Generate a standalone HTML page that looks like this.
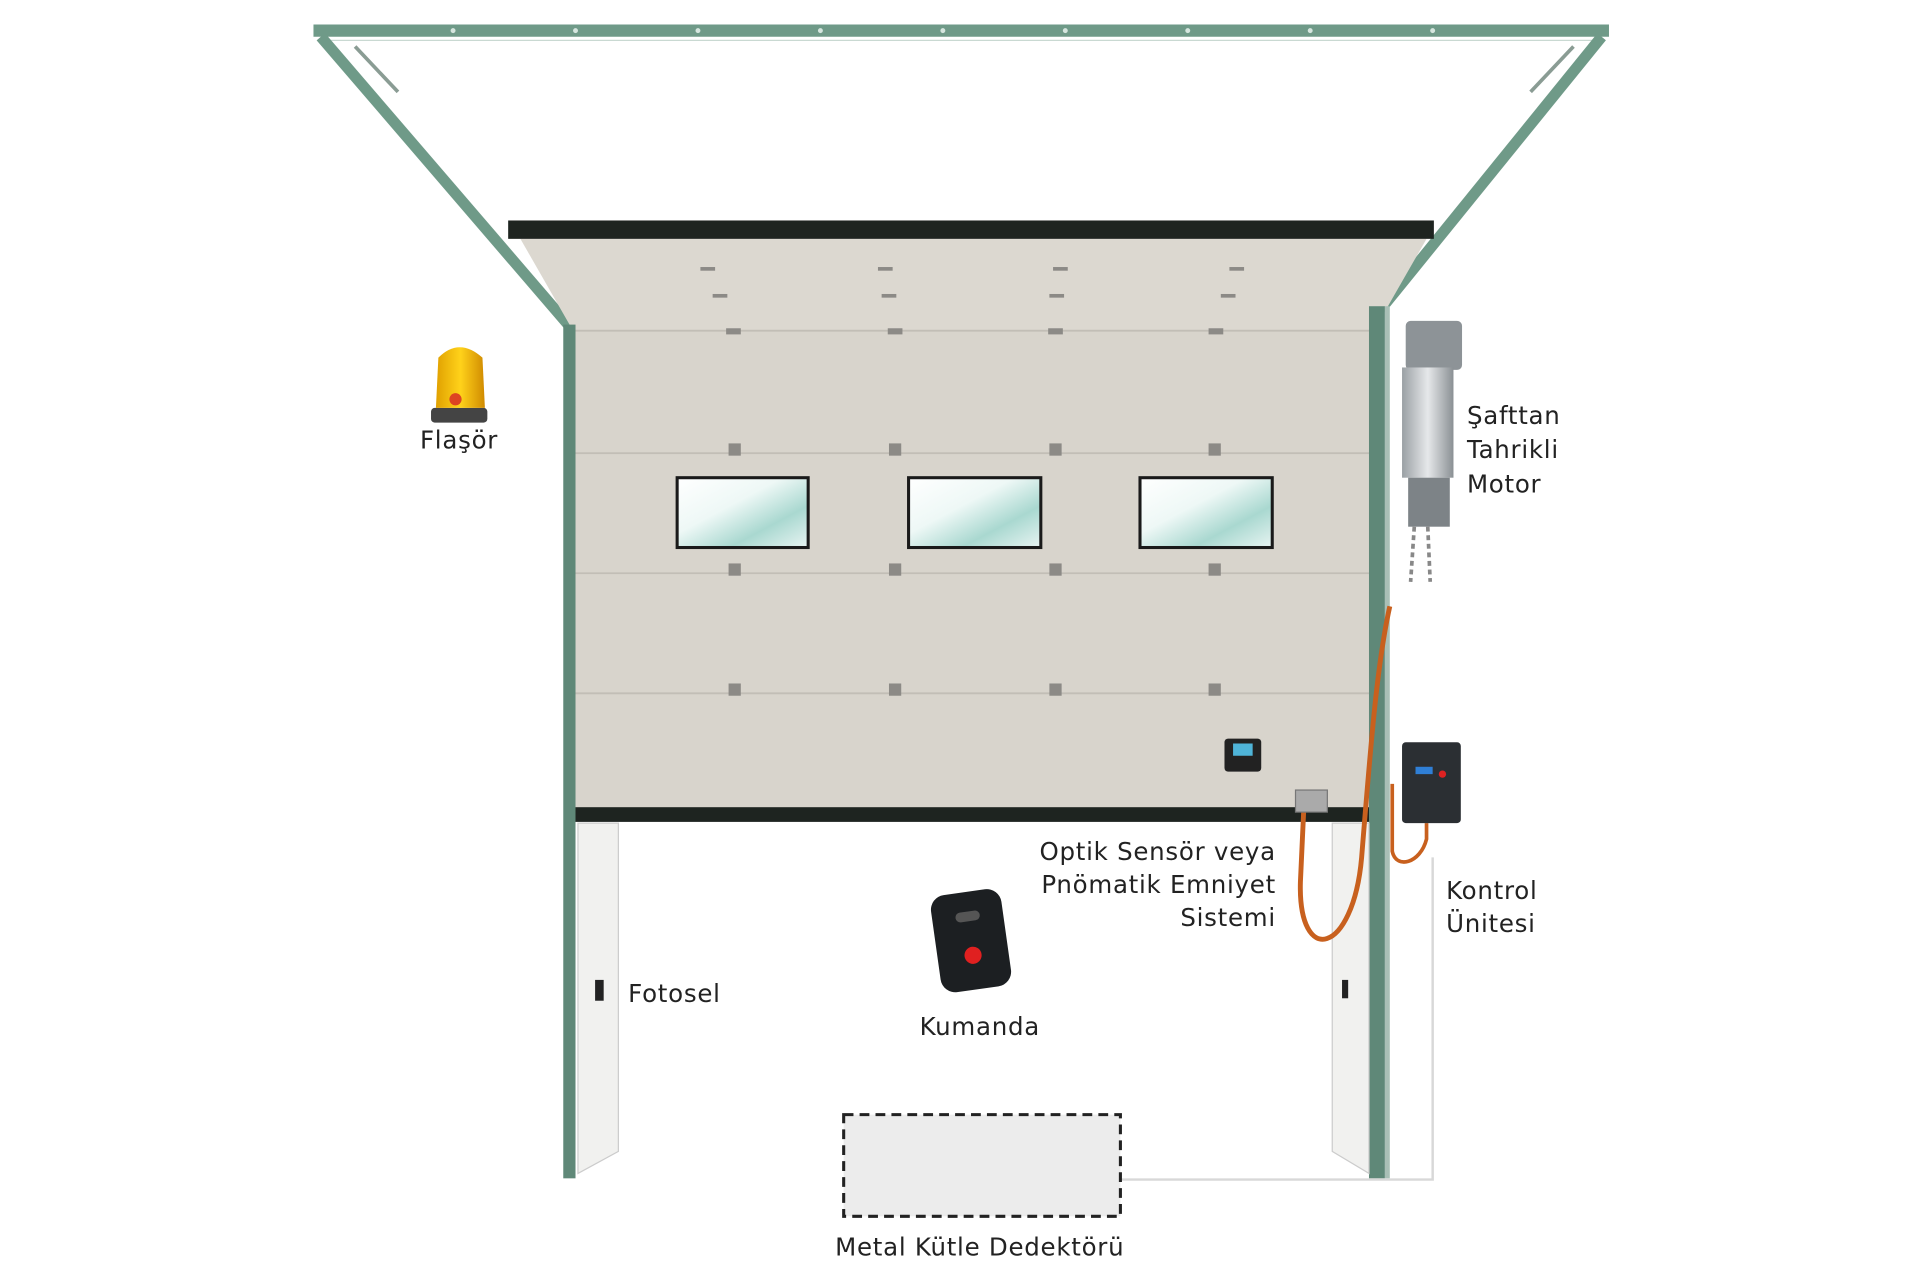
<!DOCTYPE html>
<html><head><meta charset="utf-8"><style>
html,body{margin:0;padding:0;background:#fff;}
svg{display:block;}
text{font-family:"DejaVu Sans","Liberation Sans",sans-serif;font-size:20px;letter-spacing:0.6px;fill:#222;}
</style></head><body>
<svg width="1920" height="1280" viewBox="0 0 1568 1045" preserveAspectRatio="none" xmlns="http://www.w3.org/2000/svg">
<defs>
<linearGradient id="gl" x1="0" y1="0" x2="1" y2="1">
<stop offset="0" stop-color="#fff"/><stop offset="0.4" stop-color="#eef8f6"/><stop offset="0.7" stop-color="#a9d8d0"/><stop offset="1" stop-color="#e8f4f2"/>
</linearGradient>
<linearGradient id="fl" x1="0" y1="0" x2="1" y2="0">
<stop offset="0" stop-color="#e0a000"/><stop offset="0.5" stop-color="#ffd21a"/><stop offset="1" stop-color="#d08a00"/>
</linearGradient>
<linearGradient id="mo" x1="0" y1="0" x2="1" y2="0">
<stop offset="0" stop-color="#9aa0a4"/><stop offset="0.5" stop-color="#e6e8ea"/><stop offset="1" stop-color="#8a9094"/>
</linearGradient>
</defs>
<rect x="256" y="20" width="1058" height="10" fill="#6f9a88"/>
<line x1="262" y1="33" x2="1310" y2="33" stroke="#c9d9d2" stroke-width="1"/>
<g fill="#d6e6df">
<circle cx="370" cy="25" r="2"/><circle cx="470" cy="25" r="2"/><circle cx="570" cy="25" r="2"/><circle cx="670" cy="25" r="2"/><circle cx="770" cy="25" r="2"/><circle cx="870" cy="25" r="2"/><circle cx="970" cy="25" r="2"/><circle cx="1070" cy="25" r="2"/><circle cx="1170" cy="25" r="2"/>
</g>
<line x1="262" y1="30" x2="470" y2="272" stroke="#6f9a88" stroke-width="9"/>
<line x1="1308" y1="30" x2="1128" y2="252" stroke="#6f9a88" stroke-width="9"/>
<line x1="290" y1="38" x2="325" y2="75" stroke="#8a9c94" stroke-width="3"/>
<line x1="1285" y1="38" x2="1250" y2="75" stroke="#8a9c94" stroke-width="3"/>
<polygon points="425,195 1165,195 1122,270 468,270" fill="#dcd8d0"/>
<rect x="468" y="270" width="654" height="392" fill="#d8d4cc"/>
<rect x="415" y="180" width="756" height="15" fill="#1e2420"/>
<g stroke="#c2beb6" stroke-width="1.5">
<line x1="468" y1="270" x2="1122" y2="270"/><line x1="468" y1="370" x2="1122" y2="370"/><line x1="468" y1="468" x2="1122" y2="468"/><line x1="468" y1="566" x2="1122" y2="566"/>
</g>
<g fill="#8c8a86">
<rect x="572" y="218" width="12" height="3"/><rect x="717" y="218" width="12" height="3"/><rect x="860" y="218" width="12" height="3"/><rect x="1004" y="218" width="12" height="3"/>
<rect x="582" y="240" width="12" height="3"/><rect x="720" y="240" width="12" height="3"/><rect x="857" y="240" width="12" height="3"/><rect x="997" y="240" width="12" height="3"/>
<rect x="593" y="268" width="12" height="5"/><rect x="725" y="268" width="12" height="5"/><rect x="856" y="268" width="12" height="5"/><rect x="987" y="268" width="12" height="5"/>
<rect x="595" y="362" width="10" height="10"/><rect x="726" y="362" width="10" height="10"/><rect x="857" y="362" width="10" height="10"/><rect x="987" y="362" width="10" height="10"/>
<rect x="595" y="460" width="10" height="10"/><rect x="726" y="460" width="10" height="10"/><rect x="857" y="460" width="10" height="10"/><rect x="987" y="460" width="10" height="10"/>
<rect x="595" y="558" width="10" height="10"/><rect x="726" y="558" width="10" height="10"/><rect x="857" y="558" width="10" height="10"/><rect x="987" y="558" width="10" height="10"/>
</g>
<g fill="url(#gl)" stroke="#1a1a1a" stroke-width="2.5">
<rect x="553" y="390" width="107" height="57"/><rect x="742" y="390" width="108" height="57"/><rect x="931" y="390" width="108" height="57"/>
</g>
<rect x="465" y="659" width="657" height="12" fill="#1e2420"/>
<rect x="460" y="265" width="10" height="697" fill="#5f8878"/>
<rect x="1118" y="250" width="13" height="712" fill="#5f8878"/>
<rect x="1131" y="250" width="4" height="712" fill="#a9bfb6"/>
<polygon points="472,672 505,672 505,940 472,958" fill="#f1f1ef" stroke="#ccc" stroke-width="1"/>
<polygon points="1088,672 1118,672 1118,958 1088,940" fill="#f1f1ef" stroke="#ccc" stroke-width="1"/>
<rect x="486" y="800" width="7" height="17" fill="#222"/>
<rect x="1096" y="800" width="5" height="15" fill="#222"/>
<polyline points="915,963 1170,963 1170,700" fill="none" stroke="#d8d8d8" stroke-width="2"/>
<rect x="1148" y="262" width="46" height="40" rx="4" fill="#8d9397"/>
<rect x="1145" y="300" width="42" height="90" fill="url(#mo)"/>
<rect x="1150" y="390" width="34" height="40" fill="#7d8387"/>
<line x1="1155" y1="430" x2="1152" y2="475" stroke="#888" stroke-width="3" stroke-dasharray="4 3"/>
<line x1="1166" y1="430" x2="1168" y2="475" stroke="#888" stroke-width="3" stroke-dasharray="4 3"/>
<path d="M1135,495 C1125,540 1120,600 1112,700 C1105,780 1060,790 1062,720 L1065,655" fill="none" stroke="#c8601e" stroke-width="4"/>
<path d="M1137,640 L1137,695 C1140,710 1160,705 1165,685 L1165,672" fill="none" stroke="#c8601e" stroke-width="3"/>
<rect x="1058" y="645" width="26" height="18" fill="#aaa" stroke="#777"/>
<rect x="1145" y="606" width="48" height="66" rx="3" fill="#2b2f33"/>
<rect x="1156" y="626" width="14" height="6" fill="#2f7fd6"/>
<circle cx="1178" cy="632" r="3" fill="#d22"/>
<rect x="1000" y="603" width="30" height="27" rx="3" fill="#222"/>
<rect x="1007" y="607" width="16" height="10" fill="#4fb4d8"/>
<rect x="352" y="333" width="46" height="12" rx="3" fill="#444"/>
<path d="M356,333 L358,292 Q375,275 394,292 L396,333 Z" fill="url(#fl)"/>
<circle cx="372" cy="326" r="5" fill="#d42"/>
<g transform="rotate(-8 793 768)">
<rect x="764" y="728" width="58" height="80" rx="12" fill="#1c1f22"/>
<circle cx="793" cy="780" r="7" fill="#e02020"/>
<rect x="783" y="744" width="20" height="8" rx="4" fill="#555"/>
</g>
<rect x="689" y="910" width="226" height="83" fill="#ececec" stroke="#222" stroke-width="2.5" stroke-dasharray="8 5"/>
<text x="343" y="366">Flaşör</text>
<text x="1198" y="346">Şafttan</text>
<text x="1198" y="374">Tahrikli</text>
<text x="1198" y="402">Motor</text>
<text x="1042" y="702" text-anchor="end">Optik Sensör veya</text>
<text x="1042" y="729" text-anchor="end">Pnömatik Emniyet</text>
<text x="1042" y="756" text-anchor="end">Sistemi</text>
<text x="1181" y="734">Kontrol</text>
<text x="1181" y="761">Ünitesi</text>
<text x="513" y="818">Fotosel</text>
<text x="751" y="845">Kumanda</text>
<text x="682" y="1025">Metal Kütle Dedektörü</text>
</svg>
</body></html>
